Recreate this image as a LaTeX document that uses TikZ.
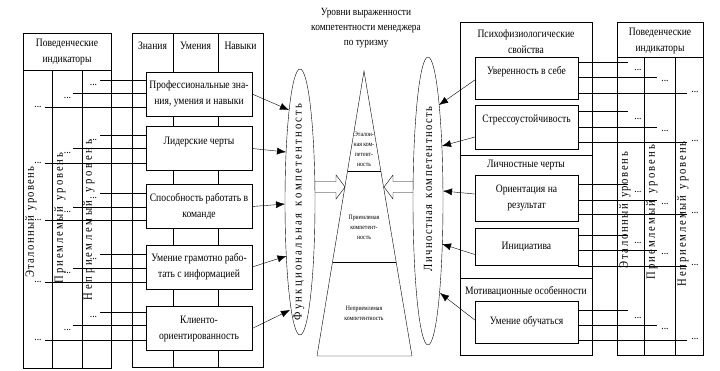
\documentclass[tikz,border=0pt]{standalone}
\usepackage{fontspec}
\setmainfont[FakeStretch=0.85]{Liberation Serif}
\usetikzlibrary{arrows.meta,shapes.geometric}

% spread the letters of #2 evenly over the length #1 (~ stands for a space)
\newcommand\spreadto[2]{\hbox to #1{\spreadloop#2\relax\unskip}}
\def\spreadloop#1{\ifx#1\relax\else#1\hfil\expandafter\spreadloop\fi}

\begin{document}
\begin{tikzpicture}[x=1pt, y=-1pt, >={Latex[length=9pt,width=7pt]},
    font=\fontsize{11.3}{16}\selectfont,
    card/.style={draw, fill=white, minimum width=106, minimum height=44, inner sep=1pt, align=center},
    rcard/.style={card, minimum width=103},
    head/.style={align=center, inner sep=0pt, font=\fontsize{11.3}{15.5}\selectfont},
    dots/.style={inner sep=0pt},
    vtext/.style={rotate=90, inner sep=0pt, font=\fontsize{12.5}{12.5}\selectfont},
    tiny/.style={align=center, inner sep=0pt, font=\fontsize{6.8}{10}\selectfont},
    oval/.style={ellipse, draw, inner sep=0pt, minimum width=30}]

    \useasboundingbox (0,0) rectangle (720,370);

    % --- Left indicators ---
    \draw (23,33) rectangle (111,368);
    \draw (23,70) -- (111,70);
    \draw (52,70) -- (52,368) (82,70) -- (82,368);
    \node[head] (lhead) at (67,52) {Поведенческие\\индикаторы};
    \node[vtext] (lv1) at (31,222) {\spreadto{111pt}{Эталонный~уровень}};
    \node[vtext] (lv2) at (60,218) {\spreadto{130pt}{Приемлемый~уровень}};
    \node[vtext] (lv3) at (89,220) {\spreadto{160pt}{Неприемлемый~уровень}};

    % --- Functional competences ---
    \draw (132,33) rectangle (263,367);
    \draw (173,33) -- (173,367) (218,33) -- (218,367);
    \node (zn) at (152.5,46) {Знания};
    \node (um) at (195.5,46) {Умения};
    \node (nv) at (240.5,46) {Навыки};

    \node[card] (p1) at (199,94) {Профессиональные зна-\\ния, умения и навыки};
    \node[card] (p2) at (199,148.5) {Лидерские черты\\\mbox{}};
    \node[card] (p3) at (199,206.5) {Способность работать в\\команде};
    \node[card] (p4) at (199,267) {Умение грамотно рабо-\\тать с информацией};
    \node[card] (p5) at (199,328.5) {Клиенто-\\ориентированность};

    \foreach \b/\ya/\yb/\yc [count=\i] in {p1/80/93/107, p2/135/148/163, p3/193/207/220, p4/254/268/282, p5/312/325/340}{
        \coordinate (la\i) at (100,\ya);
        \coordinate (lb\i) at (73,\yb);
        \coordinate (lc\i) at (45,\yc);
        \node[dots] at (93.5,\ya+5) {...};
        \node[dots] at (67.5,\yb+5) {...};
        \node[dots] at (38,\yc) {...};
        \draw (la\i) -- (la\i -| \b.west);
        \draw (lb\i) -- (lb\i -| \b.west);
        \draw (lc\i) -- (lc\i -| \b.west);
    }

    \node[oval, minimum height=266] (fk) at (300,202) {};
    \node[vtext] (fkt) at (299,212) {\spreadto{217pt}{Функциональная~компетентность}};

    \coordinate (f1) at (289,110);
    \coordinate (f2) at (286,152);
    \coordinate (f3) at (285,204);
    \coordinate (f4) at (286.5,256);
    \coordinate (f5) at (290,310);
    \foreach \i in {1,...,5}
        \draw[->] (p\i.east) -- (f\i);

    % --- Levels ---
    \node[align=center, font=\fontsize{11}{15}\selectfont] (title) at (366,28)
        {Уровни выраженности\\компетентности менеджера\\по туризму};

    \coordinate (apex) at (364,71);
    \coordinate (bl) at (317,356);
    \coordinate (br) at (412,356);
    \draw (apex) -- (br) -- (bl) -- cycle;
    \draw (347.5,171) -- (380.8,171);
    \draw (332.5,262) -- (396.2,262);
    \node[tiny] (lev1) at (364,149) {Эталон-\\ная ком-\\петент-\\ность};
    \node[tiny] (lev2) at (364,227) {Приемлемая\\компетент-\\ность};
    \node[tiny] (lev3) at (364,313) {Неприемлемая\\компетентность};

    % hollow arrows
    \draw (315,181.5) -- (336,181.5) -- (336,175) -- (345,187) -- (336,199) -- (336,192.5) -- (315,192.5);
    \draw (413,181.5) -- (393,181.5) -- (393,175) -- (384,187) -- (393,199) -- (393,192.5) -- (413,192.5);

    % --- Personal competences ---
    \node[oval, minimum height=288] (lk) at (428,201) {};
    \node[vtext] (lkt) at (428,189) {\spreadto{165pt}{Личностная~компетентность}};

    \draw (460,22) rectangle (592,355);
    \draw (460,155) -- (592,155) (460,278) -- (592,278);
    \node[head] (psy) at (526,41.5) {Психофизиологические\\свойства};
    \node[head] (lch) at (526,165) {Личностные черты};
    \node[head] (mot) at (526,292) {Мотивационные особенности};

    \node[rcard, minimum height=42] (s1) at (526.5,78) {Уверенность в себе\\\mbox{}};
    \node[rcard, minimum height=44] (s2) at (526.5,127) {Стрессоустойчивость\\\mbox{}};
    \node[rcard, minimum height=46] (s3) at (526.5,198) {Ориентация на\\результат};
    \node[rcard, minimum height=37] (s4) at (526.5,246.5) {Инициатива};
    \node[rcard, minimum height=42] (s5) at (526.5,322) {Умение обучаться};

    \coordinate (g1) at (439,105);
    \coordinate (g2) at (442,146);
    \coordinate (g3) at (443,191);
    \coordinate (g4) at (442,244);
    \coordinate (g5) at (440,293);
    \draw[->] ([yshift=-2pt]s1.west) -- (g1);
    \draw[->] ([yshift=-10pt]s2.west) -- (g2);
    \draw[->] ([yshift=4pt]s3.west) -- (g3);
    \draw[->] ([yshift=-8pt]s4.west) -- (g4);
    \draw[->] ([yshift=2pt]s5.west) -- (g5);

    % --- Right indicators ---
    \draw (617,22) rectangle (703,355);
    \draw (617,57) -- (703,57);
    \draw (644,57) -- (644,355) (675,57) -- (675,355);
    \node[head] (rhead) at (660,41) {Поведенческие\\индикаторы};
    \node[vtext] (rv1) at (625,210) {\spreadto{116pt}{Эталонный~уровень}};
    \node[vtext] (rv2) at (652,212) {\spreadto{135pt}{Приемлемый~уровень}};
    \node[vtext] (rv3) at (683,214) {\spreadto{145pt}{Неприемлемый~уровень}};

    \foreach \b/\ya/\yb/\yc [count=\i] in {s1/62/77/93, s2/111/127/142, s3/184/200/214, s4/235/250/266, s5/310/325/340}{
        \coordinate (ra\i) at (628,\ya);
        \coordinate (rb\i) at (657,\yb);
        \coordinate (rc\i) at (687,\yc);
        \node[dots] at (638,\ya+8) {...};
        \node[dots] at (665,\yb+4) {...};
        \node[dots] at (695,\yc-1) {...};
        \draw (\b.east |- ra\i) -- (ra\i);
        \draw (\b.east |- rb\i) -- (rb\i);
        \draw (\b.east |- rc\i) -- (rc\i);
    }

\end{tikzpicture}
\end{document}
